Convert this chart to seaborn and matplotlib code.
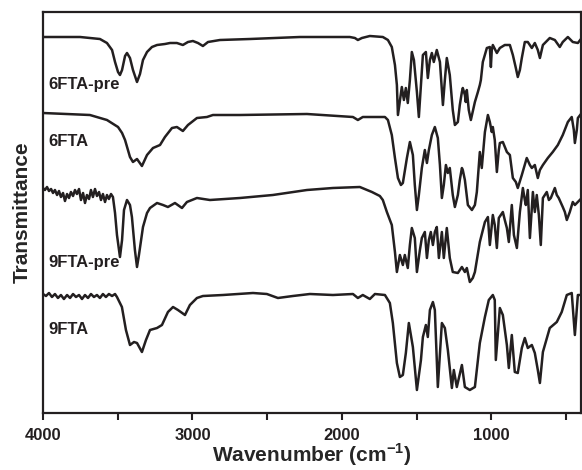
import matplotlib
matplotlib.use("Agg")
import matplotlib.pyplot as plt
import seaborn as sns
import numpy as np
from matplotlib.ticker import MultipleLocator

# FTIR spectra, transmittance in arbitrary (offset) units
wn_6fta_pre = [4000, 3752, 3619, 3572, 3538, 3518, 3498, 3485, 3471, 3451, 3438, 3418, 3398, 3371,
               3351, 3331, 3304, 3271, 3237, 3184, 3150, 3104, 3064, 3030, 2997, 2963, 2930, 2896,
               2816, 2615, 2281, 1947, 1913, 1893, 1866, 1813, 1726, 1692, 1666, 1645, 1632, 1625,
               1599, 1585, 1572, 1559, 1545, 1532, 1518, 1498, 1485, 1471, 1458, 1438, 1425, 1411,
               1398, 1385, 1365, 1344, 1324, 1311, 1298, 1278, 1258, 1244, 1224, 1211, 1197, 1191,
               1177, 1171, 1164, 1151, 1137, 1110, 1090, 1077, 1070, 1057, 1030, 1010, 1003, 997,
               990, 963, 943, 910, 876, 856, 836, 823, 809, 796, 776, 756, 729, 709, 689, 675, 655,
               609, 575, 542, 522, 488, 455, 421, 395]
t_6fta_pre = [376, 376, 374, 370, 363, 351, 341, 338, 343, 357, 360, 355, 343, 331,
              339, 353, 361, 366, 368, 369, 370, 370, 368, 371, 372, 370, 367, 371,
              373, 374, 376, 376, 375, 373, 375, 377, 376, 373, 366, 348, 328, 298,
              326, 313, 325, 310, 333, 361, 353, 321, 296, 328, 358, 361, 335, 353,
              360, 351, 363, 351, 308, 333, 355, 338, 303, 288, 291, 308, 321, 325,
              318, 311, 323, 303, 293, 311, 321, 328, 333, 351, 365, 366, 346, 363,
              368, 360, 365, 368, 368, 358, 345, 336, 343, 355, 371, 371, 365, 370, 363, 355, 368,
              375, 373, 366, 371, 376, 371, 370, 375]

wn_6fta = [4000, 3686, 3572, 3498, 3471, 3451, 3418, 3398, 3371, 3338, 3304, 3264, 3217, 3184,
           3137, 3104, 3064, 3030, 2970, 2903, 2863, 2682, 2234, 1926, 1893, 1860, 1712, 1692,
           1666, 1645, 1625, 1605, 1592, 1565, 1545, 1525, 1512, 1498, 1485, 1465, 1445, 1431,
           1418, 1398, 1378, 1358, 1344, 1331, 1318, 1304, 1291, 1278, 1258, 1244, 1224, 1211,
           1197, 1191, 1177, 1157, 1130, 1110, 1097, 1077, 1064, 1043, 1023, 1010, 997, 990,
           977, 963, 950, 943, 923, 896, 876, 856, 836, 823, 796, 763, 742, 729, 709, 689, 675,
           655, 622, 589, 555, 522, 488, 462, 448, 441, 428, 421, 395]
t_6fta = [300, 298, 293, 286, 280, 273, 256, 251, 254, 247, 258, 265, 268, 276,
          285, 286, 282, 288, 295, 296, 298, 298, 299, 296, 293, 296, 296, 293,
          278, 255, 235, 228, 230, 255, 271, 258, 228, 203, 218, 245, 263, 250,
          263, 278, 286, 275, 248, 215, 228, 248, 240, 245, 218, 206, 218, 233,
          245, 243, 233, 208, 203, 208, 221, 261, 245, 281, 298, 291, 281, 286,
          273, 241, 263, 270, 271, 261, 258, 235, 231, 225, 238, 255, 248, 245, 248, 235, 243,
          248, 255, 261, 268, 278, 291, 296, 283, 270, 283, 295, 300]

wn_9fta_pre = [4000, 3987, 3973, 3960, 3946, 3933, 3920, 3906, 3893, 3880, 3866, 3853, 3839, 3826,
               3813, 3799, 3786, 3773, 3759, 3746, 3732, 3719, 3706, 3692, 3679, 3666, 3652, 3639,
               3625, 3612, 3599, 3585, 3572, 3559, 3545, 3532, 3518, 3505, 3485, 3471, 3458, 3438,
               3418, 3405, 3385, 3371, 3358, 3331, 3304, 3284, 3237, 3197, 3164, 3117, 3070, 3037,
               2970, 2883, 2682, 2462, 2234, 2060, 1880, 1799, 1746, 1726, 1699, 1679, 1666, 1645,
               1632, 1612, 1592, 1579, 1559, 1545, 1532, 1512, 1498, 1478, 1465, 1445, 1431, 1418,
               1405, 1391, 1378, 1365, 1351, 1331, 1318, 1298, 1278, 1258, 1224, 1197, 1177, 1164,
               1144, 1124, 1110, 1077, 1043, 1023, 1010, 990, 977, 963, 950, 923, 910, 896, 883,
               863, 849, 829, 809, 789, 776, 769, 756, 742, 722, 709, 696, 682, 669, 655, 642, 629,
               615, 602, 575, 562, 549, 522, 508, 495, 475, 455, 441, 421, 395]
t_9fta_pre = [225, 223, 226, 222, 224, 220, 223, 218, 222, 216, 220, 212, 219, 215,
              221, 217, 223, 219, 224, 213, 220, 210, 218, 214, 223, 216, 224, 217,
              221, 213, 219, 211, 218, 214, 219, 216, 200, 178, 156, 173, 203, 213,
              208, 196, 163, 146, 158, 186, 200, 205, 210, 208, 206, 210, 205, 211,
              215, 213, 215, 218, 223, 225, 226, 221, 217, 213, 201, 193, 188, 161,
              141, 158, 148, 158, 145, 168, 185, 175, 141, 163, 175, 181, 155, 173,
              181, 168, 181, 186, 155, 181, 155, 185, 155, 141, 140, 146, 141, 145,
              131, 135, 141, 171, 191, 196, 168, 198, 188, 165, 195, 201, 193, 185, 171,
              208, 178, 165, 201, 225, 213, 208, 223, 175, 221, 201, 218, 198, 168, 215, 218, 221,
              213, 215, 225, 218, 215, 206, 201, 193, 201, 211, 208, 211, 215]

wn_9fta = [4000, 3980, 3960, 3940, 3920, 3900, 3880, 3860, 3839, 3819, 3799, 3779, 3759, 3739,
           3719, 3699, 3679, 3659, 3639, 3619, 3599, 3579, 3559, 3538, 3518, 3505, 3472, 3445,
           3418, 3391, 3371, 3338, 3311, 3284, 3237, 3204, 3164, 3130, 3097, 3050, 3017, 2970,
           2930, 2796, 2595, 2502, 2428, 2328, 2214, 2060, 1926, 1893, 1860, 1813, 1779, 1712,
           1679, 1659, 1632, 1612, 1592, 1572, 1552, 1525, 1498, 1471, 1458, 1438, 1425, 1411,
           1391, 1378, 1358, 1331, 1311, 1291, 1264, 1251, 1231, 1197, 1177, 1144, 1110, 1077,
           1043, 1017, 990, 977, 970, 943, 923, 896, 883, 863, 843, 823, 796, 776, 756, 729,
           709, 689, 675, 655, 609, 562, 529, 495, 462, 441, 421, 395]
t_9fta = [119, 117, 120, 116, 119, 115, 118, 114, 118, 115, 119, 116, 118, 114,
          118, 115, 119, 116, 118, 115, 119, 116, 119, 117, 119, 116, 106, 83,
          68, 71, 70, 61, 73, 83, 85, 88, 101, 106, 103, 98, 108, 115,
          117, 118, 120, 119, 115, 117, 119, 118, 119, 115, 118, 114, 119, 118,
          110, 90, 50, 36, 38, 60, 90, 66, 23, 53, 76, 88, 76, 103,
          111, 103, 26, 90, 85, 63, 25, 43, 26, 48, 26, 23, 26, 70,
          96, 113, 118, 113, 53, 105, 98, 68, 45, 78, 41, 40, 65, 75, 65, 68,
          60, 43, 30, 61, 85, 91, 101, 118, 120, 78, 118, 118]

spectra = [("6FTA-pre", wn_6fta_pre, t_6fta_pre, 328),
           ("6FTA", wn_6fta, t_6fta, 272),
           ("9FTA-pre", wn_9fta_pre, t_9fta_pre, 151),
           ("9FTA", wn_9fta, t_9fta, 84)]

sns.set_style("ticks")
plt.rcParams['font.family'] = ['Liberation Sans', 'DejaVu Sans']
plt.rcParams['mathtext.fontset'] = 'custom'
plt.rcParams['mathtext.rm'] = 'Liberation Sans:bold'
plt.rcParams['mathtext.bf'] = 'Liberation Sans:bold'

fig = plt.figure(figsize=(5.82, 4.70), dpi=100)
ax = fig.add_axes([43 / 582, 57 / 470, 538 / 582, 401 / 470])

ink = '#231f20'
for name, wn, t, label_y in spectra:
    sns.lineplot(x=wn, y=t, ax=ax, color=ink, lw=1.8, sort=False, estimator=None)
    ax.text(3965, label_y, name, fontsize=12, fontweight='bold', color=ink,
            ha='left', va='center')

ax.set_xlim(4000, 400)
ax.set_ylim(0, 401)
ax.xaxis.set_major_locator(MultipleLocator(1000))
ax.xaxis.set_minor_locator(MultipleLocator(500))
ax.set_yticks([])
ax.tick_params(axis='x', which='both', direction='out', length=5, width=1.5, colors=ink,
               labelsize=12, pad=6)
for lab in ax.get_xticklabels():
    lab.set_fontweight('bold')
for s in ax.spines.values():
    s.set_linewidth(1.6)
    s.set_color(ink)

ax.set_xlabel(r"Wavenumber (cm$^{\mathbf{-1}}$)", fontsize=15, fontweight='bold', labelpad=-1)
ax.set_ylabel("Transmittance", fontsize=15, fontweight='bold', labelpad=8)

fig.savefig("out.png", dpi=100)
